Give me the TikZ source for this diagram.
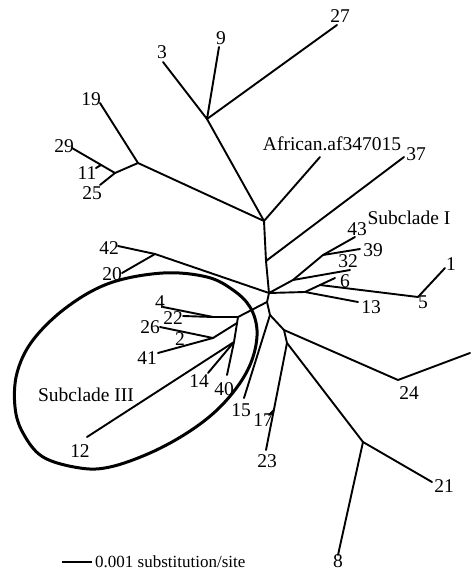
\documentclass[tikz,border=0pt]{standalone}
\usepackage{fontspec}
\setmainfont{Liberation Serif}
\begin{document}
\begin{tikzpicture}[x=1pt,y=-1pt,
  br/.style={line width=1.9pt,line cap=round,line join=round},
  lab/.style={inner sep=0pt,font=\fontsize{19.5}{19.5}\selectfont},
  ring/.style={line width=3pt}]
\useasboundingbox (0,0) rectangle (474,571);
% internal nodes
\coordinate (A) at (264,221);
\coordinate (B) at (207,119);
\coordinate (C) at (138,163);
\coordinate (D) at (115,173);
\coordinate (F) at (266,261);
\coordinate (E) at (269,293);
\coordinate (G) at (155,254);
\coordinate (V) at (267,302);
\coordinate (M) at (270,315);
\coordinate (N) at (284,330);
\coordinate (P) at (287,343);
\coordinate (Q) at (363,442);
\coordinate (H1) at (238,317);
\coordinate (H2) at (237,323);
\coordinate (H3) at (234,342);
\coordinate (I) at (213,317);
\coordinate (J) at (213,338);
\coordinate (S) at (305,292);
\coordinate (T) at (320,285);
\coordinate (U) at (293,280);
\coordinate (R) at (323,255);
% leaf ends
\coordinate (e3) at (163,62);
\coordinate (e9) at (219,47);
\coordinate (e27) at (337,25);
\coordinate (eAf) at (320,157);
\coordinate (e37) at (404,157);
\coordinate (e19) at (100,103);
\coordinate (e29) at (72,148);
\coordinate (e25) at (100,185);
\coordinate (e11a) at (101,165);
\coordinate (e11) at (96,168);
\coordinate (e42) at (118,246);
\coordinate (e20) at (122,273);
\coordinate (e4) at (163,307);
\coordinate (e22) at (183,316);
\coordinate (e26) at (160,327);
\coordinate (e41) at (158,353);
\coordinate (e12) at (87,437);
\coordinate (e14) at (208,373);
\coordinate (e40) at (227,375);
\coordinate (e15) at (244,398);
\coordinate (e17a) at (274,410);
\coordinate (e17) at (269,415);
\coordinate (e23) at (266,450);
\coordinate (e21) at (432,482);
\coordinate (e8) at (338,555);
\coordinate (e24) at (398,380);
\coordinate (e7) at (470,353);
\coordinate (e5) at (418,297);
\coordinate (e1) at (445,268);
\coordinate (e13) at (358,302);
\coordinate (e6) at (335,278);
\coordinate (e32) at (350,270);
\coordinate (e43) at (355,237);
\coordinate (e39) at (360,249);
% branches
\draw[br] (e3) -- (B) -- (e9);
\draw[br] (B) -- (e27);
\draw[br] (B) -- (A) -- (eAf);
\draw[br] (A) -- (C) -- (e19);
\draw[br] (C) -- (D) -- (e29);
\draw[br] (D) -- (e25);
\draw[br] (e11a) -- (e11);
\draw[br] (A) -- (F) -- (E);
\draw[br] (F) -- (e37);
\draw[br] (e42) -- (G) -- (E);
\draw[br] (G) -- (e20);
\draw[br] (E) -- (V) -- (H1);
\draw[br] (H1) -- (H3);
\draw[br] (H1) -- (I) -- (e4);
\draw[br] (I) -- (e22);
\draw[br] (H2) -- (J) -- (e26);
\draw[br] (J) -- (e41);
\draw[br] (H3) -- (e12);
\draw[br] (H3) -- (e14);
\draw[br] (H3) -- (e40);
\draw[br] (V) -- (M) -- (e15);
\draw[br] (M) -- (N) -- (e24) -- (e7);
\draw[br] (N) -- (P) -- (e23);
\draw[br] (e17a) -- (e17);
\draw[br] (P) -- (Q) -- (e21);
\draw[br] (Q) -- (e8);
\draw[br] (E) -- (S) -- (e13);
\draw[br] (S) -- (T) -- (e6);
\draw[br] (T) -- (e5) -- (e1);
\draw[br] (E) -- (U) -- (e32);
\draw[br] (U) -- (R) -- (e43);
\draw[br] (R) -- (e39);
% subclade III outline
\draw[ring] plot[smooth cycle,tension=0.6] coordinates {
 (163,273) (110,283) (67,307) (33,340) (17,373) (15,407) (23,433) (43,457)
 (80,468) (110,467) (150,453) (187,433) (217,410) (240,383) (253,357)
 (257,330) (250,307) (233,290) (207,277)};
% labels
\node[lab] (t3) at (162,52) {3};
\node[lab] (t9) at (221,38) {9};
\node[lab] (t27) at (340,16) {27};
\node[lab] (tAf) at (332,144) {African.af347015};
\node[lab] (t37) at (416,154) {37};
\node[lab] (t19) at (91,99) {19};
\node[lab] (t29) at (64,146) {29};
\node[lab] (t11) at (87,173) {11};
\node[lab] (t25) at (92,193) {25};
\node[lab] (t42) at (109,248) {42};
\node[lab] (t20) at (112,274) {20};
\node[lab] (tSI) at (409,218) {Subclade I};
\node[lab] (t43) at (357,229) {43};
\node[lab] (t39) at (373,250) {39};
\node[lab] (t32) at (348,261) {32};
\node[lab] (t6) at (345,281) {6};
\node[lab] (t13) at (371,307) {13};
\node[lab] (t5) at (423,302) {5};
\node[lab] (t1) at (451,264) {1};
\node[lab] (t24) at (409,393) {24};
\node[lab] (t7) at (480,347) {7};
\node[lab] (t4) at (160,302) {4};
\node[lab] (t22) at (173,318) {22};
\node[lab] (t26) at (150,327) {26};
\node[lab] (t2) at (180,339) {2};
\node[lab] (t41) at (147,358) {41};
\node[lab] (t14) at (199,381) {14};
\node[lab] (t40) at (224,389) {40};
\node[lab] (t15) at (241,410) {15};
\node[lab] (t17) at (263,420) {17};
\node[lab] (t23) at (267,461) {23};
\node[lab] (t21) at (444,486) {21};
\node[lab] (t8) at (338,561) {8};
\node[lab] (t12) at (80,451) {12};
\node[lab] (tSIII) at (86,395) {Subclade III};
% scale bar
\coordinate (s1) at (62,562);
\coordinate (s2) at (92,562);
\draw[br,line cap=butt] (s1) -- (s2);
\node[inner sep=0pt,anchor=west,font=\fontsize{17}{17}\selectfont] (tscale) at (95,562) {0.001 substitution/site};
\end{tikzpicture}
\end{document}
